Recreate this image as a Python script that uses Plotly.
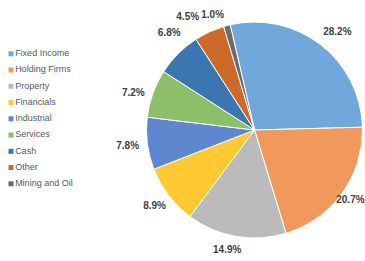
import plotly.graph_objects as go

W, H = 365, 261

categories = ["Fixed Income", "Holding Firms", "Property", "Financials", "Industrial",
              "Services", "Cash", "Other", "Mining and Oil"]
shares = [28.2, 20.7, 14.9, 8.9, 7.8, 7.2, 6.8, 4.5, 1.0]
colors = ["#70A8DC", "#F1995C", "#BBBBBB", "#FFC934", "#5F87CF",
          "#8BBF69", "#3B76B0", "#CC6A2A", "#6B6B6B"]

# layout of the pie (centre x, centre y in px from top-left, radius in px)
PIE = (254.5, 130.0, 108.0)
# invisible label rings (same slices) used to place the outside percentage labels
LABEL_RINGS = [
    ((254.5, 124.0, 108.0), ["Mining and Oil"]),
    ((250.0, 126.0, 115.0), ["Fixed Income", "Other"]),
    ((260.8, 145.0, 89.6), ["Holding Firms"]),
    ((260.8, 149.0, 96.7), ["Property"]),
    ((254.2, 105.7, 100.0), ["Cash"]),
    ((255.5, 137.0, 109.0), ["Financials"]),
    ((253.0, 131.0, 112.0), ["Industrial", "Services"]),
]


def domain(cx, cy, r):
    return dict(x=[max(0, (cx - r) / W), min(1, (cx + r) / W)],
                y=[max(0, (H - cy - r) / H), min(1, (H - cy + r) / H)])


label_font = dict(family="Liberation Sans", size=10, color="#404040", weight="bold")

fig = go.Figure()
fig.add_trace(go.Pie(
    labels=categories, values=shares, sort=False, direction="clockwise", rotation=-13,
    marker=dict(colors=colors, line=dict(color="white", width=1)),
    textinfo="none", showlegend=False, hoverinfo="skip",
    domain=domain(*PIE),
))
for geom, shown in LABEL_RINGS:
    txt = [f"{v:.1f}%" if c in shown else "" for c, v in zip(categories, shares)]
    fig.add_trace(go.Pie(
        labels=categories, values=shares, sort=False, direction="clockwise", rotation=-13,
        marker=dict(colors=["rgba(0,0,0,0)"] * len(categories), line=dict(width=0)),
        text=txt, textinfo="text", textposition="outside", textfont=label_font,
        showlegend=False, hoverinfo="skip",
        domain=domain(*geom),
    ))

fig.add_trace(go.Scatter(
    x=[0] * len(categories), y=list(range(len(categories))), mode="markers+text",
    text=categories, textposition="middle right",
    marker=dict(symbol="square", size=5, color=colors),
    textfont=dict(family="Liberation Sans", size=9, color="#595959"),
    showlegend=False, cliponaxis=False, hoverinfo="skip",
))
fig.update_layout(
    width=W, height=H, margin=dict(l=0, r=0, t=0, b=0, autoexpand=False),
    paper_bgcolor="white", plot_bgcolor="rgba(0,0,0,0)",
    xaxis=dict(visible=False, domain=[0, 0.35], range=[-11, 116.75]),
    yaxis=dict(visible=False, domain=[0, 1], range=[12.75, -3.31]),
)
fig.write_html("out.html", config={"displayModeBar": False},
               post_script="document.body.style.margin='0';")
